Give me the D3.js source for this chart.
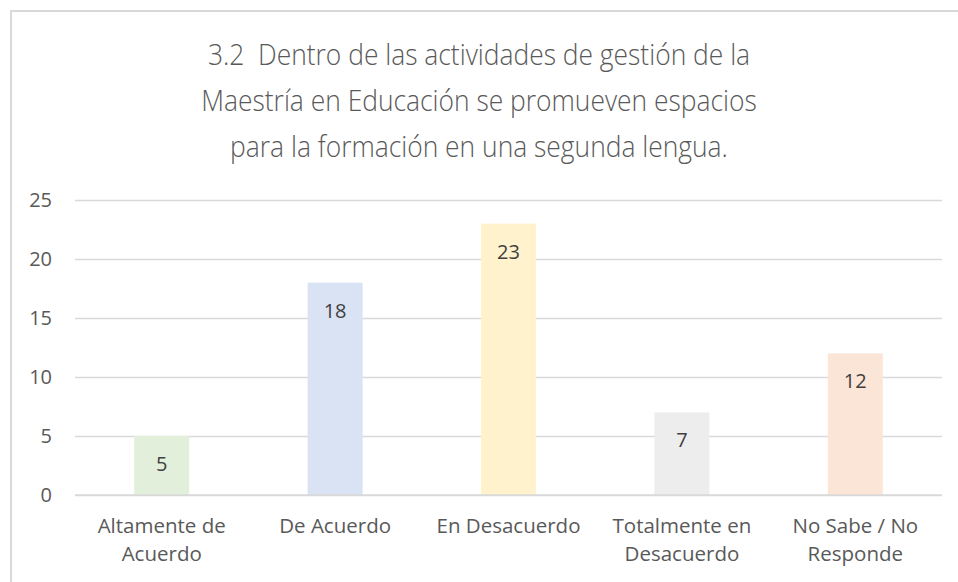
<!DOCTYPE html>
<html>
<head>
<meta charset="utf-8">
<script src="https://cdn.jsdelivr.net/npm/d3@7"></script>
<style>
  body { margin: 0; background: #fff; }
  text { font-family: "Open Sans", sans-serif; }
</style>
</head>
<body>
<script>
// chart data
var categories = ["Altamente de|Acuerdo", "De Acuerdo", "En Desacuerdo", "Totalmente en|Desacuerdo", "No Sabe / No|Responde"];
var values = [5, 18, 23, 7, 12];
var barColors = ["#e2efda", "#dae3f3", "#fff2cc", "#ededed", "#fbe5d6"];
var yTicks = [0, 5, 10, 15, 20, 25];
var titleLines = ["3.2\u00a0 Dentro de las actividades de gestión de la",
                  "Maestría en Educación se promueven espacios",
                  "para la formación en una segunda lengua."];

var width = 958, height = 582;
var margin = { left: 75, right: 16, top: 200, bottom: 87 };

var svg = d3.select("body").append("svg")
    .attr("width", width)
    .attr("height", height);

// chart border (only left and top visible)
svg.append("rect")
    .attr("x", 11).attr("y", 11)
    .attr("width", width + 20).attr("height", height + 20)
    .attr("fill", "none")
    .attr("stroke", "#d9d9d9")
    .attr("stroke-width", 2);

// title, squeezed a bit horizontally to get closer to the narrow original face
svg.append("g")
    .attr("transform", "translate(479,0) scale(0.88,1)")
    .selectAll("text")
    .data(titleLines)
    .enter().append("text")
    .attr("x", 0)
    .attr("y", function (d, i) { return 65 + i * 46; })
    .attr("text-anchor", "middle")
    .attr("font-size", 30)
    .attr("font-weight", 300)
    .attr("fill", "#595959")
    .text(function (d) { return d; });

var x = d3.scaleBand()
    .domain(categories)
    .range([margin.left, width - margin.right])
    .paddingInner(0.683)
    .paddingOuter(0.3415);

var y = d3.scaleLinear()
    .domain([0, 25])
    .range([height - margin.bottom, margin.top]);

// gridlines + y labels
var yAxis = d3.axisLeft(y)
    .tickValues(yTicks)
    .tickSize(-(width - margin.left - margin.right))
    .tickPadding(23);

svg.append("g")
    .attr("transform", "translate(" + margin.left + ",0)")
    .call(yAxis)
    .call(function (g) {
        g.select(".domain").remove();
        g.selectAll(".tick line").attr("stroke", "#d9d9d9").attr("stroke-width", 1.5);
        g.selectAll(".tick text")
            .attr("font-size", 20)
            .attr("fill", "#595959")
            .attr("font-family", "Open Sans, sans-serif");
    });

// bars
svg.append("g").selectAll("rect")
    .data(values)
    .enter().append("rect")
    .attr("x", function (d, i) { return x(categories[i]); })
    .attr("y", function (d) { return y(d); })
    .attr("width", x.bandwidth())
    .attr("height", function (d) { return y(0) - y(d); })
    .attr("fill", function (d, i) { return barColors[i]; });

// redraw the zero line over the bars
svg.append("line")
    .attr("x1", margin.left).attr("x2", width - margin.right)
    .attr("y1", y(0)).attr("y2", y(0))
    .attr("stroke", "#d9d9d9")
    .attr("stroke-width", 1.5);

// value labels
svg.append("g").selectAll("text")
    .data(values)
    .enter().append("text")
    .attr("x", function (d, i) { return x(categories[i]) + x.bandwidth() / 2; })
    .attr("y", function (d) { return y(d) + 35; })
    .attr("text-anchor", "middle")
    .attr("font-size", 20)
    .attr("fill", "#404040")
    .text(function (d) { return d; });

// category labels
var xAxis = d3.axisBottom(x).tickSize(0).tickPadding(0).tickFormat("");
var xg = svg.append("g")
    .attr("transform", "translate(0," + y(0) + ")")
    .call(xAxis);
xg.select(".domain").remove();
xg.selectAll(".tick").each(function (d) {
    var lines = d.split("|");
    var t = d3.select(this).append("text")
        .attr("text-anchor", "middle")
        .attr("font-size", 20.5)
        .attr("fill", "#595959");
    lines.forEach(function (l, i) {
        t.append("tspan")
            .attr("x", 0)
            .attr("y", 38 + i * 28)
            .text(l);
    });
});
</script>
</body>
</html>
